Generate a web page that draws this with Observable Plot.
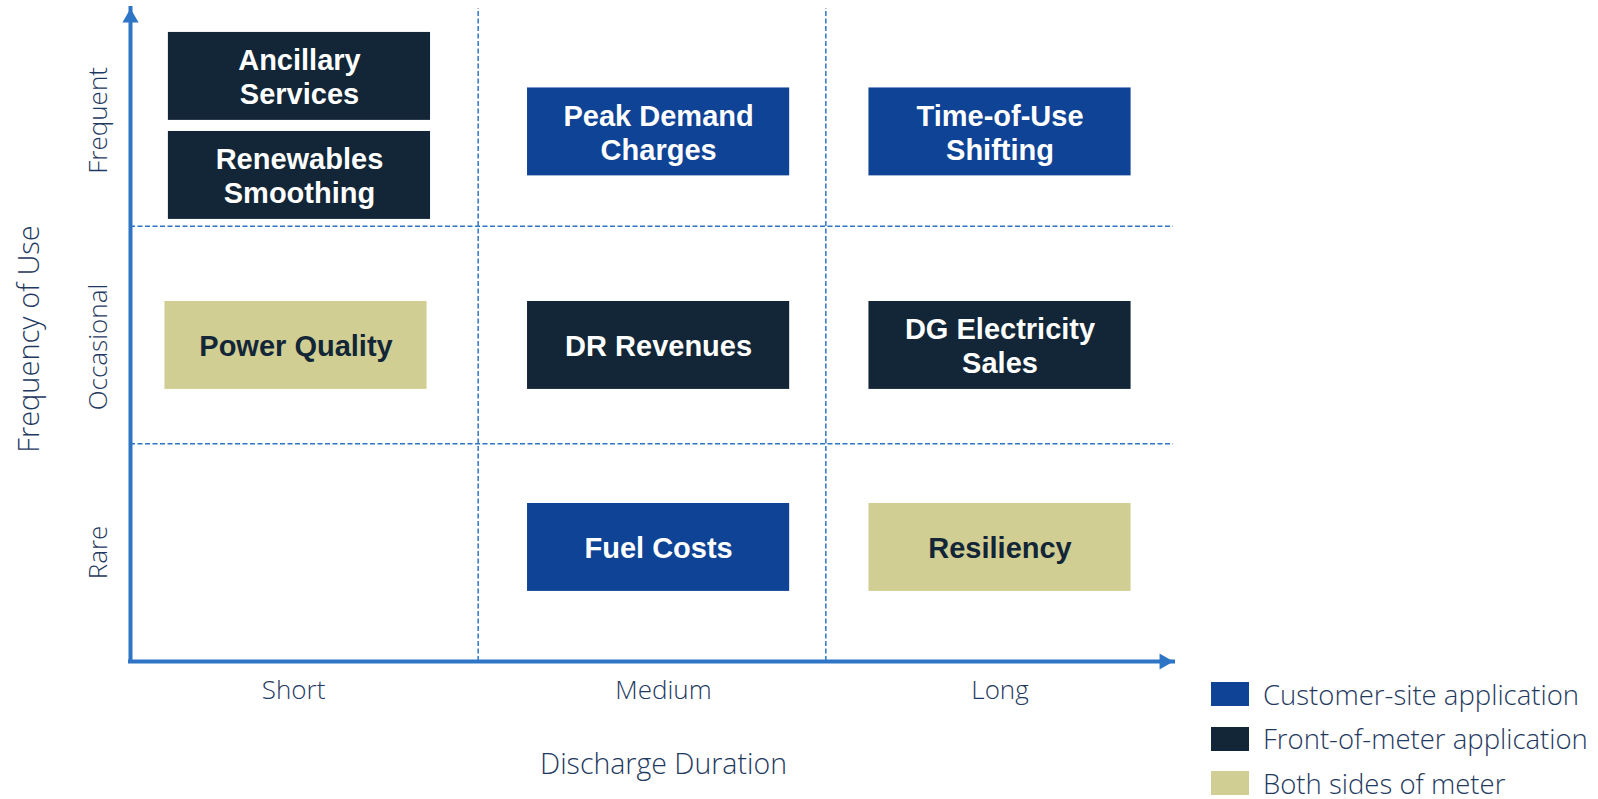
<!DOCTYPE html>
<html>
<head>
<meta charset="utf-8">
<script src="https://cdn.jsdelivr.net/npm/d3@7"></script>
<script src="https://cdn.jsdelivr.net/npm/@observablehq/plot@0.6"></script>
<style>
  html, body { margin: 0; padding: 0; background: #fff; }
  #wrap { position: relative; width: 1598px; height: 799px; overflow: hidden; }
  #legend { position: absolute; left: 1211px; top: 672px; font-family: "Open Sans", "Noto Sans", sans-serif; font-weight: 300; font-size: 27.5px; color: #1f3a5f; }
  .row { display: flex; align-items: center; height: 44.5px; white-space: nowrap; }
  .sw { width: 38px; height: 24px; margin-right: 14px; flex: none; }
</style>
</head>
<body>
<div id="wrap"><div id="legend"></div></div>
<script>
// ---- data ----
const xLabels = ["Short", "Medium", "Long"];
const xTickPos = [0.469, 1.533, 2.501];
const yLabels = ["Rare", "Occasional", "Frequent"];
const yTickPos = [0.501, 1.445, 2.486];
const xTitle = "Discharge Duration";
const yTitle = "Frequency of Use";

const appNames = ["Ancillary\nServices", "Renewables\nSmoothing", "Peak Demand\nCharges", "Time-of-Use\nShifting",
  "Power Quality", "DR Revenues", "DG Electricity\nSales", "Fuel Costs", "Resiliency"];
const appX = [0.486, 0.486, 1.519, 2.501, 0.476, 1.519, 2.501, 1.519, 2.501];
const appY = [2.688, 2.233, 2.433, 2.433, 1.452, 1.452, 1.452, 0.524, 0.524];
const appType = ["Front-of-meter application", "Front-of-meter application", "Customer-site application", "Customer-site application",
  "Both sides of meter", "Front-of-meter application", "Front-of-meter application", "Customer-site application", "Both sides of meter"];

const types = ["Customer-site application", "Front-of-meter application", "Both sides of meter"];
const typeColors = ["#0f4396", "#122637", "#d1ce93"];

const gridLines = [1, 2];

// ---- style constants ----
const BOX_W = 0.754, BOX_H = 0.404;
const AXIS = "#2e75c6";
const LABEL = "#1f3a5f";
const DARK = "#122637";
const lightFont = '"Open Sans", "Noto Sans", sans-serif';

const apps = appNames.map((name, i) => ({name, x: appX[i], y: appY[i], type: appType[i]}));

const plot = Plot.plot({
  width: 1598,
  height: 799,
  marginLeft: 130,
  marginRight: 425,
  marginTop: 8,
  marginBottom: 138,
  x: {domain: [0, 3]},
  y: {domain: [0, 3]},
  color: {domain: types, range: typeColors},
  style: {background: "white"},
  marks: [
    Plot.ruleX(gridLines, {x: d => d, y1: 0, y2: 3, stroke: AXIS, strokeWidth: 1.5, strokeDasharray: "5,2.5"}),
    Plot.ruleY(gridLines, {y: d => d, x1: 0, x2: 3, stroke: AXIS, strokeWidth: 1.5, strokeDasharray: "5,2.5"}),
    Plot.rect(apps, {x1: d => d.x - BOX_W / 2, x2: d => d.x + BOX_W / 2, y1: d => d.y - BOX_H / 2, y2: d => d.y + BOX_H / 2, fill: "type"}),
    Plot.text(apps.filter(d => d.type !== types[2]), {x: "x", y: "y", text: "name", fill: "white",
      fontFamily: '"Liberation Sans", Arial, sans-serif', fontWeight: "bold", fontSize: 29, lineHeight: 1.17}),
    Plot.text(apps.filter(d => d.type === types[2]), {x: "x", y: "y", text: "name", fill: DARK,
      fontFamily: '"Liberation Sans", Arial, sans-serif', fontWeight: "bold", fontSize: 29, lineHeight: 1.17}),
    Plot.ruleX([0], {x: d => d, y1: 0, y2: 3, stroke: AXIS, strokeWidth: 4, strokeLinecap: "square"}),
    Plot.ruleY([0], {y: d => d, x1: 0, x2: 3, stroke: AXIS, strokeWidth: 4, strokeLinecap: "square"}),
    Plot.dot([3], {x: 0, y: d => d, symbol: "triangle", r: 6, fill: AXIS, stroke: null, dy: 9.3}),
    Plot.dot([3], {x: d => d, y: 0, symbol: "triangle", r: 6, fill: AXIS, stroke: null, rotate: 90, dx: -9.3}),
    Plot.axisX(xTickPos, {anchor: "bottom", tickSize: 0, tickPadding: 19, label: null,
      tickFormat: d => xLabels[xTickPos.indexOf(d)], fontSize: 26, fill: LABEL, fontFamily: lightFont, fontWeight: 300}),
    Plot.axisY(yTickPos, {anchor: "left", tickSize: 0, tickPadding: 24, tickRotate: -90, label: null,
      tickFormat: d => yLabels[yTickPos.indexOf(d)], fontSize: 26, fill: LABEL, fontFamily: lightFont, fontWeight: 300}),
    Plot.text([xTitle], {frameAnchor: "bottom", text: d => d, textAnchor: "middle", lineAnchor: "middle", dx: 11.5, dy: 103,
      fontSize: 28.5, fill: LABEL, fontFamily: lightFont, fontWeight: 300}),
    Plot.text([yTitle], {frameAnchor: "left", text: d => d, rotate: -90, textAnchor: "middle", lineAnchor: "middle", dx: -100.5, dy: 4,
      fontSize: 29, fill: LABEL, fontFamily: lightFont, fontWeight: 300})
  ]
});
document.getElementById("wrap").prepend(plot);

const legend = document.getElementById("legend");
types.forEach((t, i) => {
  const row = document.createElement("div");
  row.className = "row";
  const sw = document.createElement("span");
  sw.className = "sw";
  sw.style.background = typeColors[i];
  const lab = document.createElement("span");
  lab.textContent = t;
  row.append(sw, lab);
  legend.append(row);
});
</script>
</body>
</html>
